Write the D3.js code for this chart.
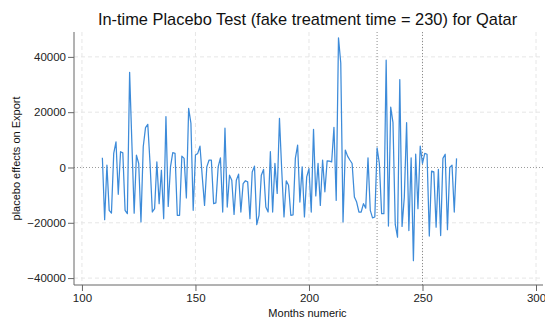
<!DOCTYPE html>
<html>
<head>
<meta charset="utf-8">
<script src="https://cdn.jsdelivr.net/npm/d3@7"></script>
<style>
  html, body { margin: 0; padding: 0; background: #fff; }
  svg { display: block; font-family: "Liberation Sans", Arial, Helvetica, sans-serif; }
</style>
</head>
<body>
<svg id="chart" width="545" height="323"></svg>
<script>
// Months covered by the series (109 .. 265)
const months = d3.range(109, 266);

// Placebo effects on Export, one value per month
const effects = [
  3500, -18900, 850, -15500, -16500, 5100, 9300, -9700, 5700, 5300,
  -15500, -16700, 34400, 8700, -16500, 4500, 1450, -19700, 7500, 14400,
  15600, 1450, -16100, -14900, 2000, -13100, -1000, -18500, 18400, -14100,
  240, 5400, 5100, -17300, -17300, 4100, 3300, -11000, 21400, 16000,
  -15500, 4500, 5100, 7700, -3400, -13700, 240, 2700, 2700, -13100,
  -12800, 240, 3500, -16100, 14200, -14300, -2800, -4600, -17000, -4600,
  -2400, -16100, -5800, -4800, -5200, -18500, -1600, 500, -20700, -17300,
  -2800, -700, -14300, -16100, 5700, -16100, 1450, -9400, 17800, -1000,
  -17900, -4800, -6400, -17300, -17100, 3300, 8100, -12500, 240, -17900,
  -3400, -400, -16100, 13800, -10300, 1450, -13700, 2700, -8800, 2400,
  2300, 2000, 14500, -11900, 46900, 37800, -19700, 6300, 4100, 2700,
  1450, -10700, -12500, -16100, -16100, -13100, -14700, 3500, -15500, -18200,
  -17900, 7100, 1450, -16700, -16700, 38800, -21200, 21800, 16200, -20600,
  -25200, 31800, -21300, -10700, 16200, -22800, 3500, -33700, 4800, -14900,
  7700, 1450, 5100, 4800, -24800, -1300, -1600, -21600, -700, -24600,
  3300, 4800, -22500, 0, 850, -16100, 3300
];

const xTicks = [100, 150, 200, 250, 300];
const yTicks = [-40000, -20000, 0, 20000, 40000];
const markerMonths = [230, 250];

const titleText = "In-time Placebo Test (fake treatment time = 230) for Qatar";
const xTitle = "Months numeric";
const yTitle = "placebo effects on Export";

const series = months.map((m, i) => ({ month: m, value: effects[i] }));

const plot = { left: 74, right: 541, top: 32, bottom: 285 };

const x = d3.scaleLinear().domain([96.5, 302.2]).range([plot.left, plot.right]);
const y = d3.scaleLinear().domain([-42500, 49000]).range([plot.bottom, plot.top]);

const svg = d3.select("#chart");

// Light dashed grid at the major ticks
const grid = svg.append("g");
grid.selectAll("line.gx").data(xTicks).join("line")
  .attr("x1", d => x(d)).attr("x2", d => x(d))
  .attr("y1", plot.top).attr("y2", plot.bottom)
  .attr("stroke", "#e6e6e6").attr("stroke-width", 1)
  .attr("stroke-dasharray", "4,3");
grid.selectAll("line.gy").data(yTicks.filter(d => d !== 0)).join("line")
  .attr("x1", plot.left).attr("x2", plot.right + 2)
  .attr("y1", d => y(d)).attr("y2", d => y(d))
  .attr("stroke", "#e6e6e6").attr("stroke-width", 1)
  .attr("stroke-dasharray", "4,3");

// Zero reference line
svg.append("line")
  .attr("x1", plot.left).attr("x2", plot.right + 2)
  .attr("y1", y(0)).attr("y2", y(0))
  .attr("stroke", "#9a9a9a").attr("stroke-width", 1)
  .attr("stroke-dasharray", "1,2");

// Vertical markers at the fake treatment time and month 250
svg.selectAll("line.marker").data(markerMonths).join("line")
  .attr("x1", d => x(d)).attr("x2", d => x(d))
  .attr("y1", plot.top).attr("y2", plot.bottom)
  .attr("stroke", "#8c8c8c").attr("stroke-width", 1)
  .attr("stroke-dasharray", "1,2");

// Series line
const line = d3.line().x(d => x(d.month)).y(d => y(d.value));
svg.append("path")
  .datum(series)
  .attr("d", line)
  .attr("fill", "none")
  .attr("stroke", "#3d8bd9")
  .attr("stroke-width", 1.25)
  .attr("stroke-linejoin", "round");

// Axes
const xAxis = d3.axisBottom(x).tickValues(xTicks).tickSize(6).tickPadding(3).tickFormat(d3.format("d"));
const yAxis = d3.axisLeft(y).tickValues(yTicks).tickSize(6).tickPadding(2).tickFormat(d3.format("d"));

const gx = svg.append("g").attr("transform", `translate(0,${plot.bottom})`).call(xAxis);
const gy = svg.append("g").attr("transform", `translate(${plot.left},0)`).call(yAxis);

[gx, gy].forEach(g => {
  g.select(".domain").remove();
  g.selectAll(".tick line").attr("stroke", "#666");
  g.selectAll(".tick text").attr("fill", "#222").attr("font-size", 11.5)
    .attr("font-family", "Liberation Sans, Arial, sans-serif");
});

svg.append("line")
  .attr("x1", plot.left).attr("x2", plot.right + 2)
  .attr("y1", plot.bottom).attr("y2", plot.bottom)
  .attr("stroke", "#666").attr("stroke-width", 1);
svg.append("line")
  .attr("x1", plot.left).attr("x2", plot.left)
  .attr("y1", plot.top).attr("y2", plot.bottom)
  .attr("stroke", "#666").attr("stroke-width", 1);

// Titles
svg.append("text")
  .attr("x", (plot.left + plot.right) / 2).attr("y", 25)
  .attr("text-anchor", "middle")
  .attr("font-size", 16.4).attr("fill", "#111")
  .text(titleText);

svg.append("text")
  .attr("x", (plot.left + plot.right) / 2).attr("y", 317)
  .attr("text-anchor", "middle")
  .attr("font-size", 11).attr("fill", "#111")
  .text(xTitle);

svg.append("text")
  .attr("transform", `translate(20,${(plot.top + plot.bottom) / 2}) rotate(-90)`)
  .attr("text-anchor", "middle")
  .attr("font-size", 11).attr("fill", "#111")
  .text(yTitle);
</script>
</body>
</html>
